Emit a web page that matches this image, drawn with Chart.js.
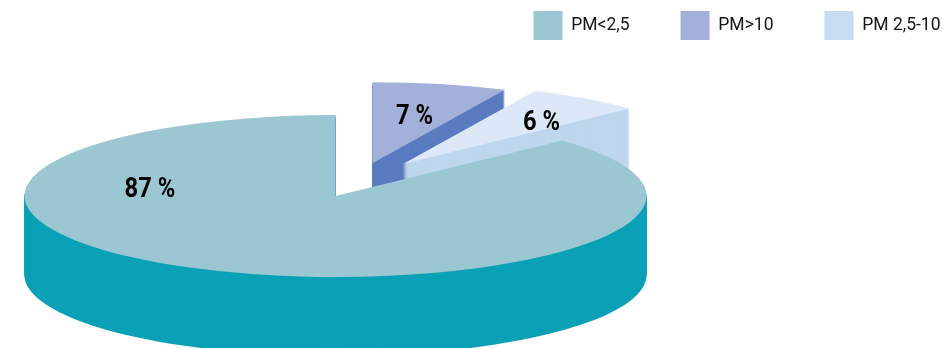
<!DOCTYPE html>
<html>
<head>
<meta charset="utf-8">
<script src="https://cdn.jsdelivr.net/npm/chart.js@4.4.1/dist/chart.umd.min.js"></script>
<style>
  html, body { margin: 0; padding: 0; background: #fff; }
</style>
</head>
<body>
<canvas id="myChart" width="942" height="348"></canvas>
<script>
// ----------- data ------------ //
let categories = ["PM<2,5", "PM>10", "PM 2,5-10"];
let shares = [87, 7, 6];

// ----------- colours ------------ //
let legend_colors = ["#9ac7d3", "#a3b1da", "#c6dcf2"];
let top_colors = ["#9bc7d3", "#a3b0da", "#dce8f8"];
let side_colors = ["#0ba1b7", "#5a7bc0", "#bdd7ee"];

let FONT = "Roboto, 'Liberation Sans', sans-serif";

// 3D tilted pie: draws the arc elements squashed, with side walls
const pie3d = {
  id: "pie3d",
  beforeDatasetsDraw(chart, args, opts) {
    const ctx = chart.ctx;
    const arcs = chart.getDatasetMeta(0).data;
    const k = opts.tilt;

    // exploded slices sit behind, draw them first
    const order = arcs.map((a, i) => i).sort((a, b) => opts.shift[a][1] - opts.shift[b][1]);

    function paint(i, color, dy) {
      const el = arcs[i];
      const saved = el.options;
      el.options = {
        backgroundColor: color, borderColor: color, borderWidth: 0, borderAlign: "center",
        offset: 0, spacing: 0, circular: true, borderRadius: 0,
        borderDash: [], borderDashOffset: 0, borderJoinStyle: "miter"
      };
      ctx.save();
      ctx.translate(opts.cx, opts.cy);
      ctx.scale(1, k);
      ctx.translate(opts.shift[i][0] - el.x, opts.shift[i][1] - el.y + dy / k);
      el.draw(ctx);
      ctx.restore();
      el.options = saved;
    }

    for (const i of order) {
      for (let d = opts.depth; d > 0; d--) paint(i, side_colors[i], d);
    }
    for (const i of order) paint(i, top_colors[i], 0);

    // percent labels (condensed look)
    ctx.save();
    ctx.font = "bold 27px " + FONT;
    ctx.fillStyle = "#000";
    ctx.textAlign = "center";
    ctx.textBaseline = "alphabetic";
    arcs.forEach((el, i) => {
      let a = (el.startAngle + el.endAngle) / 2;
      if (opts.labelAngle[i] != null) a = (opts.labelAngle[i] - 90) * Math.PI / 180;
      const r = opts.labelRadius[i] * el.outerRadius;
      const x = opts.cx + opts.shift[i][0] + r * Math.cos(a);
      const y = opts.cy + k * (opts.shift[i][1] + r * Math.sin(a));
      ctx.save();
      ctx.translate(x, y + 9.7);
      ctx.scale(0.88, 1);
      ctx.fillText(chart.data.datasets[0].data[i] + " %", 0, 0);
      ctx.restore();
    });
    ctx.restore();
    return false;
  }
};

new Chart("myChart", {
  type: "pie",
  data: {
    labels: categories,
    datasets: [{
      data: shares,
      backgroundColor: legend_colors,
      borderWidth: 0
    }]
  },
  options: {
    responsive: false,
    animation: false,
    radius: 311,
    rotation: 46.8,
    layout: { padding: { top: -40, right: -49.5, left: 0, bottom: 0 } },
    plugins: {
      tooltip: { enabled: false },
      legend: {
        position: "top",
        align: "end",
        labels: {
          boxWidth: 29,
          boxHeight: 29,
          padding: 51,
          color: "#151515",
          font: { family: FONT, size: 17.5 }
        }
      },
      pie3d: {
        cx: 335.5,
        cy: 196,
        tilt: 0.2605,
        depth: 79,
        shift: [[0, 0], [37, -126], [67.5, -123]],
        labelAngle: [280.5, null, 39.5],
        labelRadius: [0.607, 0.618, 0.70]
      }
    }
  },
  plugins: [pie3d]
});
</script>
</body>
</html>
